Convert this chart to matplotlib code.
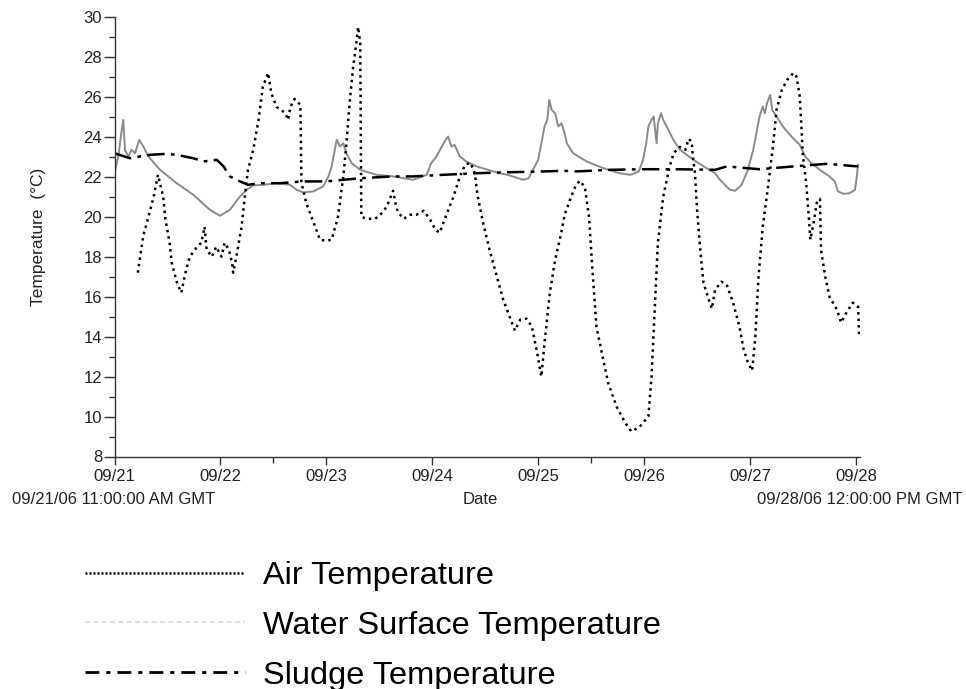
import matplotlib
matplotlib.use("Agg")
import matplotlib.pyplot as plt
from matplotlib.lines import Line2D

plt.rcParams['font.family'] = ['Liberation Sans', 'DejaVu Sans']

# ---- data (days since 09/21/06 11:00 GMT) ----
day_labels = ["09/21", "09/22", "09/23", "09/24", "09/25", "09/26", "09/27", "09/28"]
start_label = "09/21/06 11:00:00 AM GMT"
end_label = "09/28/06 12:00:00 PM GMT"

air_d = [0.22, 0.27, 0.37, 0.41, 0.46, 0.48, 0.52, 0.54, 0.59, 0.63, 0.67, 0.71, 0.78, 0.82,
         0.85, 0.87, 0.92, 0.96, 1.01, 1.04, 1.08, 1.11, 1.12, 1.15, 1.20, 1.23, 1.26, 1.31,
         1.36, 1.40, 1.45, 1.48, 1.53, 1.61, 1.64, 1.66, 1.70, 1.755, 1.765, 1.81, 1.88, 1.94,
         2.00, 2.05, 2.11, 2.16, 2.19, 2.22, 2.25, 2.29, 2.30, 2.32, 2.33, 2.38, 2.46, 2.51,
         2.57, 2.63, 2.66, 2.68, 2.73, 2.79, 2.85, 2.92, 2.98, 3.03, 3.07, 3.14, 3.20, 3.26,
         3.31, 3.36, 3.40, 3.43, 3.48, 3.54, 3.61, 3.67, 3.73, 3.78, 3.83, 3.89, 3.94, 3.99,
         4.03, 4.06, 4.11, 4.16, 4.21, 4.25, 4.30, 4.35, 4.39, 4.44, 4.48, 4.51, 4.55, 4.60,
         4.66, 4.74, 4.82, 4.88, 4.96, 5.04, 5.07, 5.10, 5.13, 5.18, 5.24, 5.28, 5.34, 5.39,
         5.42, 5.45, 5.46, 5.48, 5.50, 5.53, 5.56, 5.61, 5.64, 5.67, 5.73, 5.78, 5.84, 5.90,
         5.94, 5.98, 6.02, 6.05, 6.08, 6.12, 6.17, 6.22, 6.25, 6.30, 6.35, 6.41, 6.44, 6.47,
         6.50, 6.53, 6.55, 6.57, 6.60, 6.63, 6.66, 6.67, 6.71, 6.75, 6.82, 6.86, 6.91, 6.97,
         7.02, 7.03]
air_t = [17.2, 19.0, 21.0, 22.1, 21.0, 19.9, 18.7, 17.7, 16.7, 16.2, 17.2, 18.0, 18.5, 18.7,
         19.5, 18.35, 18.0, 18.5, 18.0, 18.7, 18.35, 17.7, 17.2, 18.0, 19.5, 21.0, 22.35, 23.35,
         24.85, 26.5, 27.2, 26.2, 25.5, 25.2, 24.85, 25.5, 25.9, 25.6, 21.7, 20.7, 19.7, 18.85,
         18.8, 18.85, 20.0, 22.0, 23.7, 25.7, 27.35, 29.0, 29.5, 28.7, 20.0, 19.9, 19.9, 20.1,
         20.5, 21.3, 20.5, 20.2, 19.9, 20.1, 20.1, 20.3, 19.85, 19.35, 19.2, 20.2, 21.0, 22.0,
         22.6, 22.7, 22.2, 21.0, 19.7, 18.35, 17.0, 15.85, 15.0, 14.3, 14.85, 14.9, 14.5, 13.2,
         12.0, 13.7, 16.2, 17.85, 19.0, 20.1, 20.85, 21.5, 21.8, 21.5, 20.0, 17.5, 14.5, 13.2,
         11.7, 10.5, 9.7, 9.25, 9.5, 10.0, 12.0, 15.35, 18.7, 21.0, 22.5, 23.2, 23.5, 23.35,
         23.9, 23.75, 23.0, 22.2, 20.35, 18.35, 16.7, 15.85, 15.4, 16.35, 16.75, 16.6, 15.7, 14.5,
         13.35, 12.7, 12.3, 14.0, 17.0, 19.5, 21.5, 23.7, 25.35, 26.35, 26.85, 27.2, 27.0, 26.0,
         23.0, 21.7, 20.35, 18.85, 19.7, 20.7, 20.9, 18.35, 17.0, 16.0, 15.35, 14.7, 15.2, 15.7,
         15.5, 14.0]

water_d = [0.0, 0.036, 0.068, 0.083, 0.099, 0.13, 0.162, 0.193, 0.234, 0.272, 0.32, 0.43,
           0.587, 0.744, 0.9, 0.996, 1.09, 1.185, 1.248, 1.31, 1.405, 1.53, 1.657, 1.72, 1.78,
           1.877, 1.97, 2.02, 2.05, 2.08, 2.097, 2.13, 2.16, 2.19, 2.24, 2.32, 2.475, 2.63,
           2.82, 2.947, 2.99, 3.04, 3.09, 3.136, 3.15, 3.18, 3.21, 3.26, 3.32, 3.42, 3.576,
           3.73, 3.86, 3.91, 3.95, 4.0, 4.03, 4.06, 4.086, 4.105, 4.127, 4.16, 4.19, 4.22,
           4.25, 4.27, 4.33, 4.457, 4.615, 4.77, 4.87, 4.95, 4.99, 5.02, 5.04, 5.07, 5.09,
           5.118, 5.13, 5.16, 5.18, 5.213, 5.276, 5.34, 5.465, 5.59, 5.67, 5.716, 5.81, 5.86,
           5.92, 5.98, 6.03, 6.06, 6.09, 6.12, 6.14, 6.16, 6.19, 6.21, 6.25, 6.31, 6.39, 6.47,
           6.52, 6.58, 6.66, 6.75, 6.8, 6.83, 6.88, 6.94, 6.99, 7.0, 7.02]
water_t = [22.18, 23.02, 24.35, 24.85, 23.35, 23.02, 23.35, 23.18, 23.85, 23.52, 23.02, 22.35,
           21.68, 21.1, 20.35, 20.05, 20.35, 21.02, 21.35, 21.57, 21.6, 21.68, 21.6, 21.35, 21.22,
           21.27, 21.52, 22.02, 22.52, 23.35, 23.85, 23.52, 23.68, 23.18, 22.68, 22.35, 22.1,
           22.02, 21.85, 22.1, 22.68, 23.02, 23.52, 23.93, 24.02, 23.52, 23.6, 23.02, 22.77,
           22.52, 22.27, 22.07, 21.85, 21.93, 22.35, 22.85, 23.68, 24.52, 24.85, 25.85, 25.35,
           25.18, 24.52, 24.68, 24.18, 23.68, 23.18, 22.77, 22.43, 22.18, 22.1, 22.27, 22.85,
           23.68, 24.52, 24.85, 25.02, 23.68, 24.68, 25.18, 24.85, 24.52, 23.85, 23.35, 22.85,
           22.43, 22.18, 21.85, 21.35, 21.3, 21.6, 22.35, 23.35, 24.18, 25.02, 25.52, 25.18,
           25.68, 26.1, 25.35, 25.02, 24.52, 24.02, 23.6, 23.02, 22.68, 22.35, 22.02, 21.77,
           21.27, 21.15, 21.18, 21.35, 21.68, 22.6]

sludge_d = [0.0, 0.146, 0.24, 0.335, 0.49, 0.587, 0.744, 0.84, 0.965, 1.03, 1.09, 1.185, 1.26,
            1.374, 1.56, 1.78, 2.0, 2.32, 2.63, 2.82, 3.1, 3.42, 3.73, 4.05, 4.25, 4.36, 4.68,
            4.99, 5.31, 5.67, 5.78, 6.09, 6.41, 6.72, 7.02]
sludge_t = [23.18, 22.93, 23.02, 23.1, 23.15, 23.1, 22.93, 22.77, 22.85, 22.52, 22.02, 21.77,
            21.6, 21.68, 21.68, 21.77, 21.77, 21.93, 22.02, 22.02, 22.1, 22.18, 22.23, 22.27,
            22.3, 22.27, 22.35, 22.38, 22.38, 22.35, 22.52, 22.38, 22.52, 22.65, 22.52]

series_labels = ["Air Temperature", "Water Surface Temperature", "Sludge Temperature"]

# ---- figure ----
W, H = 966, 689
fig = plt.figure(figsize=(W / 100, H / 100), dpi=100)
ax_left, ax_right, ax_top, ax_bot = 114.5, 860.2, 17, 456.5
ax = fig.add_axes([ax_left / W, 1 - ax_bot / H, (ax_right - ax_left) / W, (ax_bot - ax_top) / H])

text_col = '#222222'
sludge_style = (0, (7, 2.5, 1.5, 2.5))
ax.plot(water_d, water_t, color='#8a8a8a', lw=1.4, solid_joinstyle='round')
ax.plot(sludge_d, sludge_t, color='black', lw=1.8, linestyle=sludge_style)
ax.plot(air_d, air_t, color='black', lw=1.8, linestyle=(0, (1, 1.6)))

ax.set_xlim(0, 7.04)
ax.set_ylim(8, 30)
ax.set_xticks(range(len(day_labels)))
ax.set_xticklabels(day_labels)
ax.set_xticks([1.5, 4.5], minor=True)
ax.set_yticks(range(8, 31, 2))
ax.set_yticks(range(9, 30, 2), minor=True)

for s in ['top', 'right']:
    ax.spines[s].set_visible(False)
for s in ['left', 'bottom']:
    ax.spines[s].set_color('#333333')
    ax.spines[s].set_linewidth(1.0)

tfs = 12
ax.tick_params(axis='y', which='major', length=8, width=1, color='#333333',
               labelsize=tfs, labelcolor=text_col, pad=1)
ax.tick_params(axis='y', which='minor', length=4, width=1, color='#333333')
ax.tick_params(axis='x', which='major', length=6, width=1, color='#333333',
               labelsize=tfs, labelcolor=text_col, pad=3)
ax.tick_params(axis='x', which='minor', length=4, width=1, color='#333333')

ax.set_ylabel("Temperature  (°C)", fontsize=12.5, color=text_col)
ax.yaxis.set_label_coords((46 - ax_left) / (ax_right - ax_left), 0.5)

fig.text(113.5 / W, 1 - 499 / H, start_label, ha='center', va='center', fontsize=tfs, color=text_col)
fig.text(480 / W, 1 - 499 / H, "Date", ha='center', va='center', fontsize=tfs, color=text_col)
fig.text(860 / W, 1 - 499 / H, end_label, ha='center', va='center', fontsize=tfs, color=text_col)

handles = [
    Line2D([], [], color='black', lw=1.8, linestyle=(0, (0.8, 0.8))),
    Line2D([], [], color='#d8d8d8', lw=1.2, linestyle=(0, (3, 2))),
    Line2D([], [], color='black', lw=2.0, linestyle=(0, (5, 2.5, 1.5, 2.5))),
]
fsize = 23.4
fpx = fsize * 100 / 72
leg = fig.legend(handles, series_labels, loc='upper left',
                 bbox_to_anchor=(85 / W, 1 - 561 / H), frameon=False,
                 fontsize=fsize, handlelength=160 / fpx, handletextpad=18 / fpx,
                 labelspacing=0.61, borderpad=0, borderaxespad=0)

fig.savefig("out.png", dpi=100)
